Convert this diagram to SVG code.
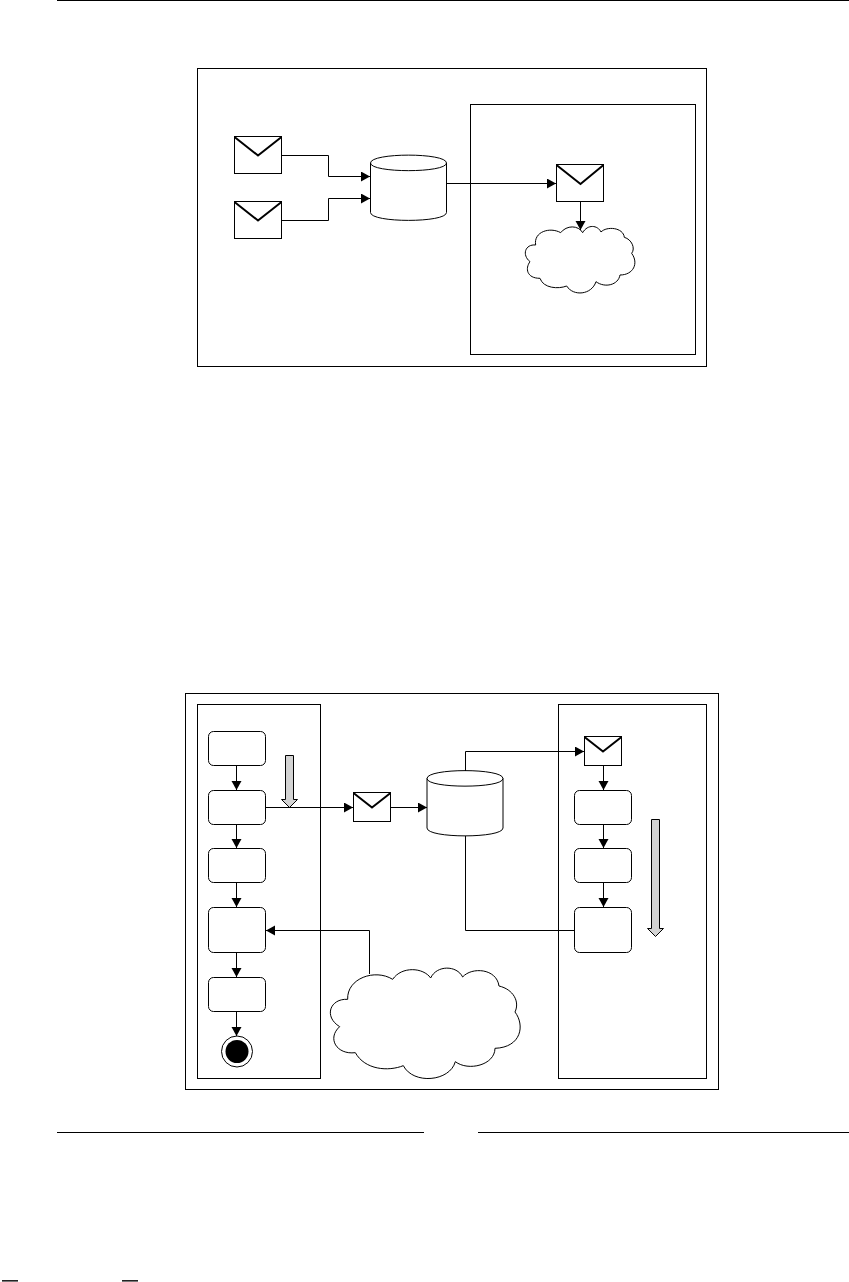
<svg xmlns="http://www.w3.org/2000/svg" width="849" height="1282" viewBox="0 0 849 1282">
<style>
.s{fill:#fff;stroke:#000;stroke-width:1}
.f{fill:none;stroke:#000;stroke-width:1}
.v{fill:none;stroke:#000;stroke-width:2}
.c{fill:none;stroke:#000;stroke-width:1;marker-end:url(#a)}
.g{fill:#d3d3d3;stroke:#000;stroke-width:1}
.r{fill:#000}
</style>
<defs>
<marker id="a" markerUnits="userSpaceOnUse" markerWidth="10" markerHeight="11" refX="9" refY="5" orient="auto"><path d="M0 0L9 5L0 10z" fill="#000"/></marker>
</defs>
<rect class="r" x="57" y="0" width="792" height="1"/>
<rect class="r" x="57" y="1132" width="367" height="1"/>
<rect class="r" x="478" y="1132" width="371" height="1"/>
<rect x="2" y="1280" width="16" height="1" fill="#222"/>
<rect x="2" y="1281" width="16" height="1" fill="#777"/>
<rect x="122" y="1280" width="16" height="1" fill="#222"/>
<rect x="122" y="1281" width="16" height="1" fill="#777"/>

<g id="top-frame"><rect class="s" x="197.5" y="68.5" width="509" height="298"/></g>
<g id="top-lane"><rect class="s" x="470.5" y="104.5" width="225" height="250"/></g>
<g id="env1"><rect class="s" x="234.5" y="136.5" width="47" height="37"/><path class="v" d="M234.5 137L258 155.5L281.5 137"/></g>
<g id="env2"><rect class="s" x="234.5" y="201.5" width="47" height="37"/><path class="v" d="M234.5 202L258 220.5L281.5 202"/></g>
<g id="db1"><path class="s" d="M370.5 163V212.500C370.500 223 446.500 223 446.500 212.500V163C446.500 152.500 370.500 152.500 370.500 163Z"/><path class="f" d="M370.500 163C370.500 173.200 446.500 173.200 446.500 163"/></g>
<g id="env3"><rect class="s" x="556.5" y="164.5" width="47" height="37"/><path class="v" d="M556.500 165L580.500 184L603.500 165"/></g>
<g id="cloud1"><path class="s" transform="translate(515 220) scale(.3333)" style="stroke-width:3" d="M62 75C55 35 105 20 137 38C155 15 190 15 203 38C218 12 248 15 258 36C275 18 325 22 328 52C350 58 362 85 350 100C372 130 355 165 315 165C310 195 270 205 243 185C230 225 175 230 155 198C130 208 85 205 75 175C35 175 30 145 45 125C20 105 30 72 62 75Z"/></g>

<g id="bottom-frame"><rect class="s" x="185.500" y="693.500" width="533" height="396"/></g>
<g id="lane-left"><rect class="s" x="197.500" y="704.500" width="123" height="374"/></g>
<g id="lane-right"><rect class="s" x="558.500" y="704.500" width="148" height="374"/></g>
<g id="l1"><rect class="s" x="208.500" y="731.500" width="57" height="34" rx="5"/></g>
<g id="l2"><rect class="s" x="208.500" y="790.500" width="57" height="34" rx="5"/></g>
<g id="l3"><rect class="s" x="208.500" y="848.500" width="57" height="34" rx="5"/></g>
<g id="l4"><rect class="s" x="208.500" y="907.500" width="57" height="45" rx="5"/></g>
<g id="l5"><rect class="s" x="208.500" y="977.500" width="57" height="34" rx="5"/></g>
<g id="end"><circle class="s" cx="237" cy="1051.500" r="15.500"/><circle class="r" cx="237" cy="1051.500" r="11.500"/></g>
<g id="r1"><rect class="s" x="574.500" y="790.500" width="57" height="34" rx="5"/></g>
<g id="r2"><rect class="s" x="574.500" y="848.500" width="57" height="34" rx="5"/></g>
<g id="r3"><rect class="s" x="574.500" y="907.500" width="57" height="45" rx="5"/></g>
<g id="env4"><rect class="s" x="353.500" y="792.500" width="37" height="29"/><path class="v" d="M353.500 793L372 807.500L390.500 793"/></g>
<g id="env5"><rect class="s" x="584.500" y="736.500" width="37" height="29"/><path class="v" d="M584.500 737L603 751.500L621.500 737"/></g>
<g id="db2"><path class="s" d="M427 778.500V828C427 838.500 503 838.500 503 828V778.500C503 768 427 768 427 778.500Z"/><path class="f" d="M427 778.500C427 788.700 503 788.700 503 778.500"/></g>
<g id="cloud2"><path class="s" transform="translate(325 960) scale(.3333)" style="stroke-width:3" d="M68 118C65 55 150 25 203 58C230 18 295 22 317 54C335 15 395 15 413 51C440 20 515 25 522 78C565 88 585 125 570 156C600 195 590 262 510 265C510 315 430 335 391 305C375 365 265 375 235 317C190 335 120 330 91 278C35 285 5 235 44 200C-5 170 15 115 68 118Z"/></g>
<g id="flow-left"><path class="g" d="M285.500 755.500H293.500V799.500H297.500L289.500 807.500L281.500 799.500H285.500Z"/></g>
<g id="flow-right"><path class="g" d="M651.500 819.500H659.500V928.500H663.500L655.500 936.500L647.500 928.500H651.500Z"/></g>

<g id="connectors">
<path class="c" d="M281.500 155.500H328.500V176.500H370"/>
<path class="c" d="M281.500 220.500H328.500V198.500H370"/>
<path class="c" d="M446.500 183.500H556"/>
<path class="c" d="M580.500 201.500V230"/>
<path class="c" d="M236.500 765.500V790"/>
<path class="c" d="M236.500 824.500V848"/>
<path class="c" d="M236.500 882.500V907"/>
<path class="c" d="M236.500 952.500V977"/>
<path class="c" d="M236.500 1011.500V1036"/>
<path class="c" d="M265.500 807.500H353"/>
<path class="c" d="M390.500 807.500H427"/>
<path class="c" d="M465.500 771V751.500H584"/>
<path class="c" d="M603.500 765.500V790"/>
<path class="c" d="M603.500 824.500V848"/>
<path class="c" d="M603.500 882.500V907"/>
<path class="f" d="M465.500 836V930.500H574.500"/>
<path class="c" d="M369.500 974V930.500H266"/>
</g>
</svg>
